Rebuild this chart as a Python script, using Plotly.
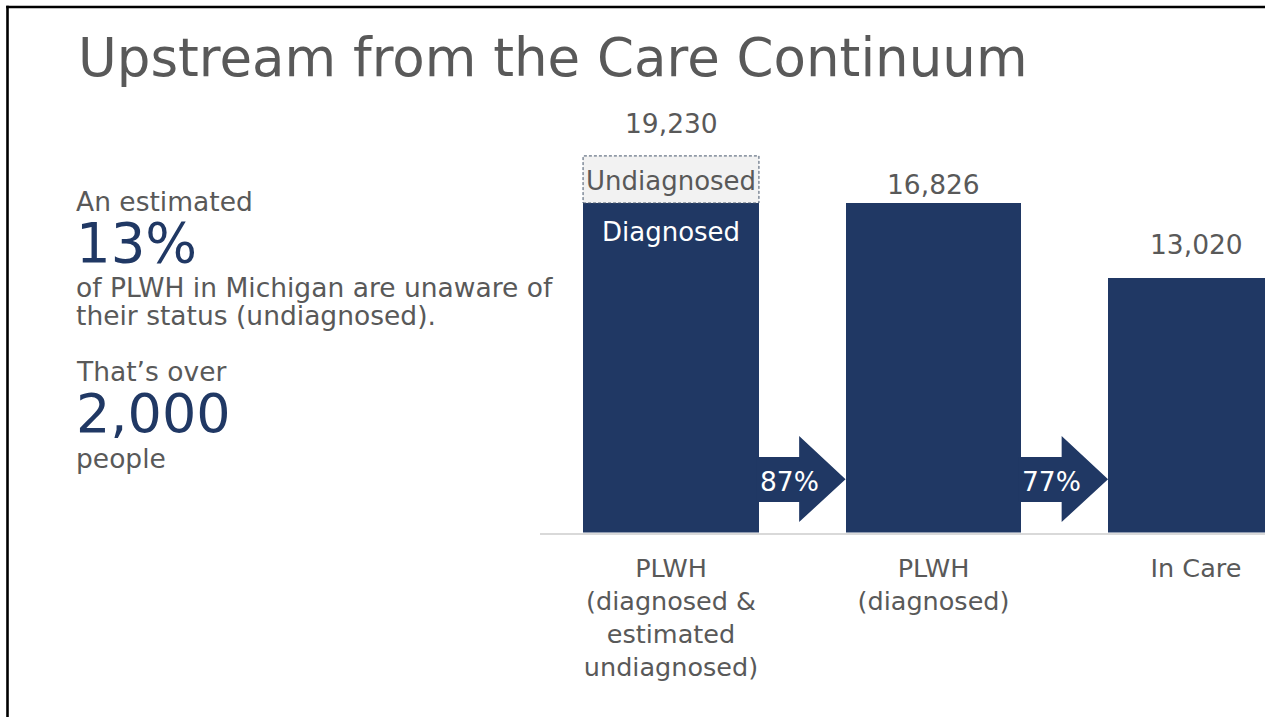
import plotly.graph_objects as go

# ---------------- data ----------------
categories = ["PLWH<br>(diagnosed &<br>estimated<br>undiagnosed)", "PLWH<br>(diagnosed)", "In Care"]
totals = [19230, 16826, 13020]
diagnosed = [16826, 16826, 13020]
value_labels = ["19,230", "16,826", "13,020"]
step_labels = ["87%", "77%"]
segment_names = ["Diagnosed", "Undiagnosed"]

undiagnosed = [t - d for t, d in zip(totals, diagnosed)]

# ---------------- style ----------------
W, H = 1265, 717
NAVY = "#203864"
GRAY = "#595959"
LIGHT = "#f2f2f2"
FONT = "DejaVu Sans, Verdana, sans-serif"
BAR_W = 0.67
BODY = 26.5

# plot area in pixels
PX0, PX1, PY0, PY1 = 540, 1265, 100, 532.5


def fx(px):
    return px / W


def fy(py):
    return 1 - py / H


fig = go.Figure()
fig.add_trace(go.Bar(x=categories, y=diagnosed, name=segment_names[0], width=BAR_W,
                     marker=dict(color=NAVY, line=dict(width=0)), hoverinfo="skip"))
fig.add_trace(go.Bar(x=categories, y=undiagnosed, name=segment_names[1], width=BAR_W,
                     marker=dict(color=LIGHT, line=dict(width=0)), hoverinfo="skip"))

shapes = []
annotations = []

# dashed outline around undiagnosed segment
for i, (d, u) in enumerate(zip(diagnosed, undiagnosed)):
    if u > 0:
        shapes.append(dict(type="rect", xref="x", yref="y", x0=i - BAR_W / 2, x1=i + BAR_W / 2,
                           y0=d, y1=d + u, line=dict(color="#44546a", width=1, dash="3px,2px"),
                           fillcolor="rgba(0,0,0,0)", layer="above"))
        annotations.append(dict(x=i, y=fy(181), xref="x", yref="paper", text=segment_names[1],
                                showarrow=False, font=dict(family=FONT, size=26, color=GRAY),
                                xanchor="center", yanchor="middle"))
        annotations.append(dict(x=i, y=fy(232), xref="x", yref="paper", text=segment_names[0],
                                showarrow=False, font=dict(family=FONT, size=26, color="white"),
                                xanchor="center", yanchor="middle"))

# value labels
label_shift = [32, 19, 33]
for i, (t, lab) in enumerate(zip(totals, value_labels)):
    annotations.append(dict(x=i, y=t, xref="x", yref="y", text=lab, showarrow=False,
                            yshift=label_shift[i], xanchor="center", yanchor="middle",
                            font=dict(family=FONT, size=BODY, color=GRAY)))

# arrows between bars
shaft_top, shaft_bot = fy(457), fy(502)
head_top, head_bot, tip_y = fy(436), fy(522), fy(479.3)
for i, lab in enumerate(step_labels):
    xs = i + BAR_W / 2 - 0.01
    xt = i + 1 - BAR_W / 2
    xn = xs + 0.48 * (xt - xs)
    path = (f"M {xs},{shaft_top} L {xn},{shaft_top} L {xn},{head_top} L {xt},{tip_y} "
            f"L {xn},{head_bot} L {xn},{shaft_bot} L {xs},{shaft_bot} Z")
    shapes.append(dict(type="path", xref="x", yref="paper", path=path,
                       fillcolor=NAVY, line=dict(width=0), layer="above"))
    annotations.append(dict(x=i + BAR_W / 2, y=fy(481), xref="x", yref="paper", text=lab,
                            showarrow=False, xanchor="left", yanchor="middle", xshift=-1,
                            font=dict(family=FONT, size=BODY, color="white")))

# slide border
shapes.append(dict(type="line", xref="paper", yref="paper", x0=fx(7.5), x1=fx(7.5), y0=-0.01, y1=fy(5.8),
                   line=dict(color="black", width=2.6)))
shapes.append(dict(type="line", xref="paper", yref="paper", x0=fx(6.2), x1=1.01, y0=fy(7), y1=fy(7),
                   line=dict(color="black", width=2.6)))

# title
annotations.append(dict(x=fx(76), y=fy(57), xref="paper", yref="paper",
                        text="Upstream from the Care Continuum", showarrow=False,
                        xanchor="left", yanchor="middle",
                        font=dict(family=FONT, size=53, color=GRAY)))

# left text block
left_lines = [
    ("An estimated", 201, BODY, GRAY),
    ("13%", 243, 54.5, NAVY),
    ("of PLWH in Michigan are unaware of", 287, BODY, GRAY),
    ("their status (undiagnosed).", 315, BODY, GRAY),
    ("That\u2019s over", 371, BODY, GRAY),
    ("2,000", 414, 54, NAVY),
    ("people", 458, BODY, GRAY),
]
for txt, yc, sz, col in left_lines:
    annotations.append(dict(x=fx(74), y=fy(yc), xref="paper", yref="paper", text=txt,
                            showarrow=False, xanchor="left", yanchor="middle",
                            font=dict(family=FONT, size=sz, color=col)))

ymax = diagnosed[1] * (PY1 - PY0) / (PY1 - 203)
unit_px = (933.5 - 671)
x_lo = -(671 - PX0) / unit_px
x_hi = 2 + (PX1 - 1196) / unit_px

fig.update_layout(
    width=W, height=H,
    margin=dict(l=0, r=0, t=0, b=0),
    paper_bgcolor="white", plot_bgcolor="white",
    barmode="stack", bargap=0, showlegend=False,
    shapes=shapes, annotations=annotations,
    xaxis=dict(domain=[fx(PX0), fx(PX1)], range=[x_lo, x_hi], type="category",
               showgrid=False, zeroline=False, showline=True, linecolor="#d9d9d9", linewidth=1.5,
               ticks="", ticklabelstandoff=12,
               tickfont=dict(family=FONT, size=25.5, color=GRAY), fixedrange=True),
    yaxis=dict(domain=[fy(PY1), fy(PY0)], range=[0, ymax], showgrid=False, zeroline=False,
               showticklabels=False, showline=False, fixedrange=True),
    hovermode=False,
)

fig.write_html("out.html", config={"displayModeBar": False},
               post_script="document.body.style.margin='0';document.body.style.overflow='hidden';")
